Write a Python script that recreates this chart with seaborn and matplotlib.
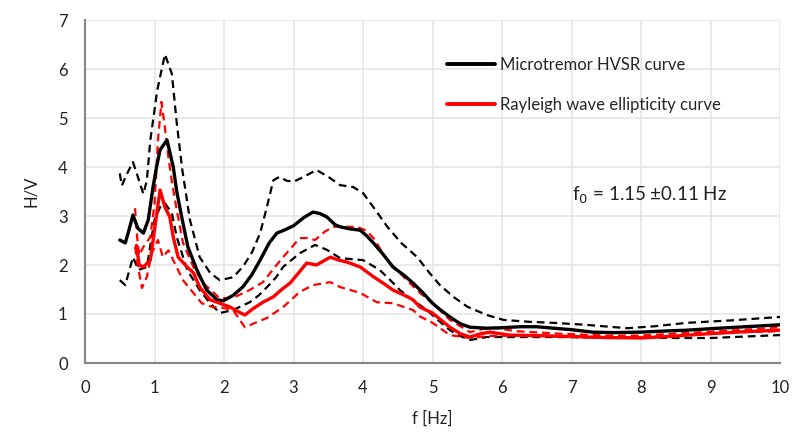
import numpy as np
import pandas as pd
import matplotlib
matplotlib.use("Agg")
import matplotlib.pyplot as plt
import seaborn as sns
from matplotlib.lines import Line2D

# ---- data ----
hv_mean_x = [0.5, 0.58, 0.63, 0.69, 0.76, 0.84, 0.91, 0.98, 1.03, 1.08, 1.18, 1.27, 1.32, 1.4, 1.48, 1.61,
             1.75, 1.9, 1.99, 2.13, 2.27, 2.4, 2.52, 2.65, 2.76, 2.88, 3.0, 3.15, 3.28, 3.38, 3.48, 3.6,
             3.67, 3.8, 3.96, 4.05, 4.15, 4.3, 4.43, 4.6, 4.72, 4.85, 5.0, 5.1, 5.25, 5.4, 5.54, 5.78,
             6.0, 6.26, 6.5, 6.74, 7.0, 7.3, 7.6, 8.0, 8.3, 8.66, 9.0, 9.5, 10.0]
hv_mean_y = [2.51, 2.45, 2.7, 3.02, 2.75, 2.65, 2.92, 3.6, 4.0, 4.35, 4.55, 4.0, 3.5, 2.92, 2.37, 1.9,
             1.49, 1.29, 1.27, 1.38, 1.55, 1.8, 2.1, 2.45, 2.65, 2.72, 2.8, 2.97, 3.08, 3.05, 2.98, 2.82,
             2.78, 2.74, 2.71, 2.6, 2.45, 2.2, 1.96, 1.78, 1.63, 1.45, 1.22, 1.1, 0.94, 0.8, 0.73, 0.71,
             0.72, 0.74, 0.74, 0.71, 0.68, 0.63, 0.62, 0.63, 0.65, 0.67, 0.7, 0.74, 0.78]

hv_up_x = [0.5, 0.53, 0.6, 0.69, 0.76, 0.84, 0.89, 0.94, 1.04, 1.15, 1.25, 1.32, 1.37, 1.4, 1.51, 1.65,
           1.8, 1.94, 2.13, 2.27, 2.4, 2.52, 2.62, 2.71, 2.8, 2.9, 3.0, 3.15, 3.33, 3.5, 3.67,
           3.86, 4.0, 4.15, 4.35, 4.55, 4.78, 4.95, 5.1, 5.3, 5.5, 5.78, 6.02, 6.4, 6.73, 7.2, 7.8,
           8.2, 8.66, 9.3, 10.0]
hv_up_y = [3.87, 3.62, 3.85, 4.1, 3.8, 3.45, 3.73, 4.55, 5.57, 6.3, 5.9, 4.9, 4.3, 3.94, 2.92, 2.16,
           1.84, 1.69, 1.75, 1.96, 2.25, 2.65, 3.2, 3.73, 3.8, 3.72, 3.7, 3.8, 3.94, 3.8, 3.63,
           3.59, 3.47, 3.18, 2.78, 2.45, 2.16, 1.85, 1.6, 1.35, 1.15, 0.98, 0.88, 0.84, 0.82, 0.78, 0.71,
           0.75, 0.82, 0.87, 0.94]

hv_lo_x = [0.5, 0.58, 0.69, 0.77, 0.89, 1.0, 1.08, 1.15, 1.25, 1.32, 1.47, 1.65, 1.8,
           1.94, 2.13, 2.37, 2.5, 2.62, 2.75, 2.85, 3.09, 3.31, 3.48, 3.67, 4.0, 4.24, 4.4, 4.53, 4.72,
           4.92, 5.1, 5.25, 5.4, 5.54, 5.78, 6.2, 6.8, 7.5, 8.0, 8.5, 9.0, 9.5, 10.0]
hv_lo_y = [1.69, 1.59, 2.16, 1.9, 1.96, 2.92, 3.18, 3.26, 3.06, 2.57, 1.9, 1.49, 1.22,
           1.02, 1.08, 1.24, 1.38, 1.55, 1.75, 1.96, 2.24, 2.41, 2.31, 2.14, 2.1, 1.9, 1.68, 1.49, 1.28,
           1.08, 0.85, 0.67, 0.55, 0.47, 0.53, 0.53, 0.53, 0.52, 0.52, 0.51, 0.51, 0.54, 0.57]

el_mean_x = [0.74, 0.78, 0.84, 0.94, 0.98, 1.08, 1.15, 1.22, 1.27, 1.34, 1.47, 1.56, 1.65, 1.8, 1.94,
             2.09, 2.2, 2.3, 2.43, 2.56, 2.71, 2.83, 2.95, 3.08, 3.19, 3.33, 3.43, 3.53, 3.65, 3.77,
             3.96, 4.15, 4.3, 4.43, 4.6, 4.72, 4.82, 5.0, 5.25, 5.4, 5.54, 5.7, 5.83, 6.1, 6.5, 7.0,
             7.5, 8.0, 8.5, 9.0, 9.5, 10.0]
el_mean_y = [2.4, 2.0, 1.96, 2.1, 2.51, 3.53, 3.18, 2.98, 2.57, 2.16, 1.96, 1.84, 1.55, 1.29, 1.22,
             1.14, 1.05, 0.98, 1.12, 1.24, 1.35, 1.5, 1.63, 1.85, 2.04, 2.0, 2.08, 2.16, 2.1, 2.06,
             1.96, 1.76, 1.62, 1.49, 1.38, 1.29, 1.14, 1.02, 0.73, 0.6, 0.53, 0.6, 0.63, 0.57, 0.56, 0.54,
             0.52, 0.51, 0.55, 0.6, 0.64, 0.67]

el_up_x = [0.72, 0.75, 0.78, 0.84, 0.94, 1.0, 1.03, 1.05, 1.1, 1.15, 1.2, 1.25, 1.32, 1.41, 1.56, 1.7,
           1.94, 2.13, 2.37, 2.56, 2.7, 2.85, 3.09, 3.2, 3.31, 3.45, 3.57, 3.91, 4.05, 4.15, 4.35, 4.63,
           4.82, 5.0, 5.25, 5.54, 5.83, 6.2, 6.8, 7.5, 8.0, 8.5, 9.0, 9.5, 10.0]
el_up_y = [3.16, 2.57, 2.2, 2.37, 2.57, 3.26, 4.0, 4.55, 5.33, 4.8, 4.2, 3.7, 3.12, 2.45, 1.96, 1.63,
           1.32, 1.33, 1.49, 1.65, 1.9, 2.16, 2.55, 2.55, 2.51, 2.68, 2.78, 2.78, 2.7, 2.55, 2.1, 1.69,
           1.43, 1.22, 0.88, 0.63, 0.73, 0.65, 0.6, 0.56, 0.56, 0.6, 0.64, 0.68, 0.73]

el_lo_x = [0.72, 0.77, 0.82, 0.89, 0.96, 1.05, 1.12, 1.2, 1.29, 1.41, 1.56, 1.68, 1.84, 1.94, 2.13,
           2.3, 2.45, 2.62, 2.85, 3.09, 3.28, 3.53, 3.67, 3.96, 4.2, 4.43, 4.72, 4.82, 5.0, 5.25, 5.54,
           5.8, 6.3, 7.0, 7.5, 8.0, 8.5, 9.0, 9.5, 10.0]
el_lo_y = [2.37, 1.9, 1.53, 1.76, 2.24, 2.51, 2.16, 2.3, 2.04, 1.69, 1.43, 1.22, 1.14, 1.14, 1.08,
           0.73, 0.82, 0.92, 1.14, 1.45, 1.59, 1.65, 1.55, 1.43, 1.24, 1.22, 1.08, 0.95, 0.82, 0.57, 0.51,
           0.55, 0.56, 0.54, 0.51, 0.52, 0.56, 0.6, 0.63, 0.65]

legend_labels = ["Microtremor HVSR curve", "Rayleigh wave ellipticity curve"]
x_ticks = list(range(0, 11))
y_ticks = list(range(0, 8))
annotation = "f$_0$ = 1.15 \u00b10.11 Hz"

# ---- plotting ----
sns.set_style("white")
plt.rcParams['font.family'] = ['Lato', 'DejaVu Sans']

fig = plt.figure(figsize=(7.92, 4.36), dpi=100)
ax = fig.add_axes([85/792, 1-363/436, (780-85)/792, (363-20)/436])

series = [
    (hv_up_x, hv_up_y, "black", "--", 1.6),
    (hv_lo_x, hv_lo_y, "black", "--", 1.6),
    (el_up_x, el_up_y, "red", "--", 1.6),
    (el_lo_x, el_lo_y, "red", "--", 1.6),
    (hv_mean_x, hv_mean_y, "black", "-", 2.4),
    (el_mean_x, el_mean_y, "red", "-", 2.4),
]
for xs, ys, c, ls, lw in series:
    df = pd.DataFrame({"f": xs, "hv": ys})
    sns.lineplot(data=df, x="f", y="hv", ax=ax, color=c, linestyle=ls, linewidth=lw,
                 sort=False, estimator=None)
    if ls == "--":
        ax.lines[-1].set_dashes([3.5, 2.2])

ax.set_xlim(0, 10)
ax.set_ylim(0, 7)
ax.set_xticks(x_ticks)
ax.set_yticks(y_ticks)
ax.grid(True, color="#e6e6e6", linewidth=1.2)
ax.set_axisbelow(True)
for s in ["top", "right"]:
    ax.spines[s].set_visible(False)
for s in ["left", "bottom"]:
    ax.spines[s].set_color("#868686")
    ax.spines[s].set_linewidth(1.5)
ax.tick_params(axis="both", direction="inout", length=9, width=1.2, color="#868686",
               labelsize=12, labelcolor="#222222", pad=8)
ax.set_xlabel("f [Hz]", fontsize=12, labelpad=10, color="#222222")
ax.set_ylabel("H/V", fontsize=12, labelpad=14, color="#222222")

handles = [Line2D([0], [0], color="black", lw=2.8), Line2D([0], [0], color="red", lw=2.8)]
fig.legend(handles, legend_labels, loc="upper left", bbox_to_anchor=(432/792, 1-42/436),
           frameon=False, fontsize=12, handlelength=2.9, handletextpad=0.3, labelspacing=1.45)

ax.text(7.0, 3.43, annotation, fontsize=13.5, color="#222222", va="center", ha="left")

fig.savefig("out.png", dpi=100)
